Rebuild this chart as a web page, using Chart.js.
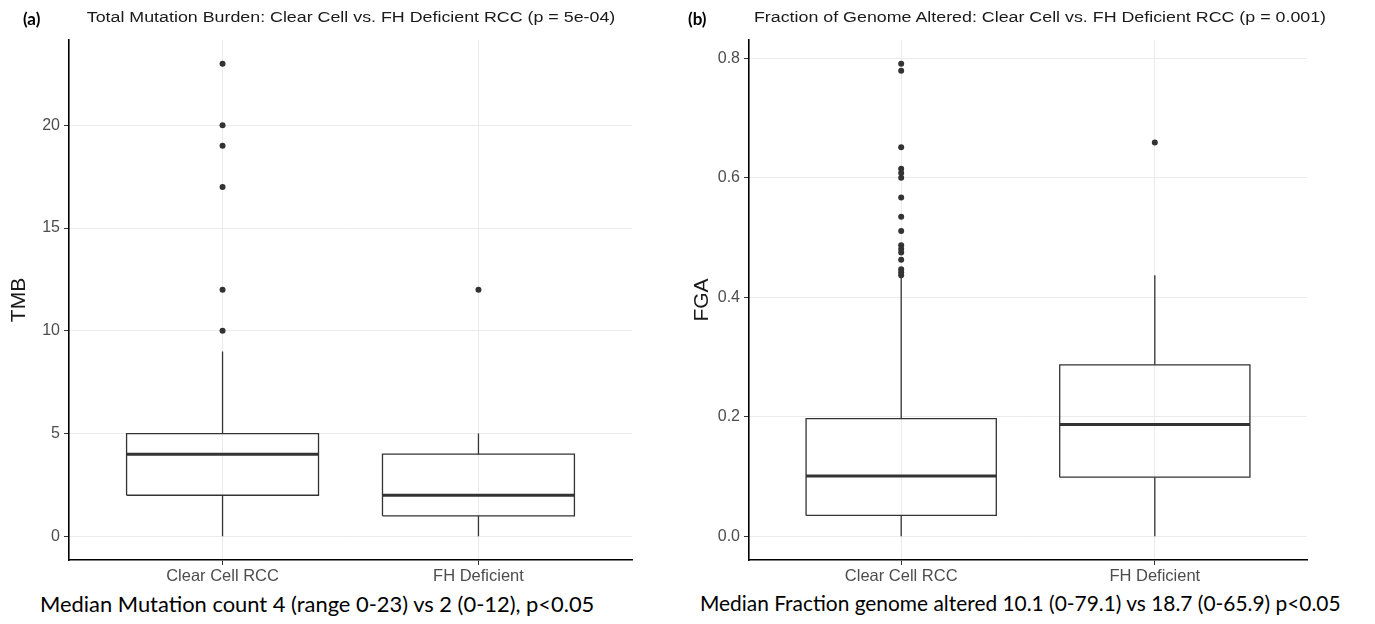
<!DOCTYPE html>
<html>
<head>
<meta charset="utf-8">
<script src="https://cdn.jsdelivr.net/npm/chart.js@4/dist/chart.umd.min.js"></script>
<style>
  html, body { margin: 0; padding: 0; background: #fff; }
  body { width: 1375px; height: 624px; position: relative; overflow: hidden; }
  .cv { position: absolute; top: 0; }
  .ttl { position: absolute; top: 8px; font-family: "Liberation Sans", Arial, sans-serif; font-size: 15.5px; color: #1a1a1a; white-space: nowrap; transform: translateX(-50%) scaleX(1.15); transform-origin: 50% 50%; }
  .tag { position: absolute; top: 8px; font-family: Lato, "Open Sans", sans-serif; font-weight: bold; font-size: 17px; color: #000; }
  .cap { position: absolute; top: 590px; font-family: Lato, "Open Sans", sans-serif; color: #000; white-space: nowrap; }
</style>
</head>
<body>
<canvas id="c1" class="cv" style="left:0px" width="688" height="590"></canvas>
<canvas id="c2" class="cv" style="left:688px" width="687" height="590"></canvas>
<div class="tag" style="left:23px">(a)</div>
<div class="ttl" style="left:351px">Total Mutation Burden: Clear Cell vs. FH Deficient RCC (p = 5e-04)</div>
<div class="tag" style="left:688px">(b)</div>
<div class="ttl" style="left:1040px">Fraction of Genome Altered: Clear Cell vs. FH Deficient RCC (p = 0.001)</div>
<div class="cap" style="left:40px; font-size:21.9px">Median Mutation count 4 (range 0-23) vs 2 (0-12), p&lt;0.05</div>
<div class="cap" style="left:700px; font-size:20.9px">Median Fraction genome altered 10.1 (0-79.1) vs 18.7 (0-65.9) p&lt;0.05</div>
<script>
// ---- data ----
const categories = ['Clear Cell RCC', 'FH Deficient'];

// Panel (a): TMB
const tmbWhiskerLow  = [0, 0];
const tmbQ1          = [2, 1];
const tmbMedian      = [4, 2];
const tmbQ3          = [5, 4];
const tmbWhiskerHigh = [9, 5];
const tmbOutliers    = [[10, 12, 17, 19, 20, 23], [12]];
const tmbTicks       = [0, 5, 10, 15, 20];

// Panel (b): FGA
const fgaWhiskerLow  = [0, 0];
const fgaQ1          = [0.035, 0.099];
const fgaMedian      = [0.101, 0.187];
const fgaQ3          = [0.197, 0.287];
const fgaWhiskerHigh = [0.434, 0.437];
const fgaOutliers    = [[0.437, 0.442, 0.447, 0.463, 0.475, 0.481, 0.487, 0.511, 0.535, 0.567, 0.600, 0.608, 0.615, 0.651, 0.779, 0.791], [0.659]];
const fgaTicks       = [0, 0.2, 0.4, 0.6, 0.8];

const HALF = 0.375; // box half width in category units
const INK = '#333333';
const GRID = '#ebebeb';

function buildDatasets(lo, q1, med, q3, hi, outs) {
  const boxes = [], medians = [], whiskers = [], points = [];
  categories.forEach((c, i) => {
    const x = i + 1;
    boxes.push({x: x - HALF, y: q1[i]}, {x: x + HALF, y: q1[i]}, {x: x + HALF, y: q3[i]}, {x: x - HALF, y: q3[i]}, {x: x - HALF, y: q1[i]}, {x: x, y: null});
    medians.push({x: x - HALF, y: med[i]}, {x: x + HALF, y: med[i]}, {x: x, y: null});
    whiskers.push({x: x, y: lo[i]}, {x: x, y: q1[i]}, {x: x, y: null}, {x: x, y: q3[i]}, {x: x, y: hi[i]}, {x: x, y: null});
    outs[i].forEach(v => points.push({x: x, y: v}));
  });
  return [
    {data: whiskers, showLine: true, borderColor: INK, borderWidth: 1.3, pointRadius: 0, spanGaps: false},
    {data: boxes, showLine: true, borderColor: INK, borderWidth: 1.3, pointRadius: 0, spanGaps: false, borderJoinStyle: 'miter'},
    {data: medians, showLine: true, borderColor: INK, borderWidth: 3, pointRadius: 0, spanGaps: false},
    {data: points, showLine: false, pointRadius: 3, pointBackgroundColor: INK, pointBorderWidth: 0, pointHoverRadius: 3}
  ];
}

function makeChart(id, datasets, ymin, ymax, ticks, yTitle, axisW, padRight, titlePad, fmt) {
  return new Chart(document.getElementById(id), {
    type: 'scatter',
    data: {datasets},
    options: {
      responsive: false,
      animation: false,
      events: [],
      layout: {padding: {left: 0, right: padRight, top: 40, bottom: 0}},
      plugins: {legend: {display: false}, tooltip: {enabled: false}},
      scales: {
        x: {
          type: 'linear', min: 0.4, max: 2.6, offset: false,
          afterBuildTicks: s => { s.ticks = categories.map((c, i) => ({value: i + 1})); },
          afterFit: s => { s.height = 30; },
          ticks: {callback: v => categories[v - 1], color: '#4d4d4d', font: {family: 'Liberation Sans', size: 16.5}, padding: 2, maxRotation: 0, autoSkip: false},
          grid: {color: GRID, lineWidth: 1, tickColor: INK, tickLength: 5, offset: false},
          border: {display: true, color: '#000', width: 1.6}
        },
        y: {
          type: 'linear', min: ymin, max: ymax,
          afterBuildTicks: s => { s.ticks = ticks.map(v => ({value: v})); },
          afterFit: s => { s.width = axisW; },
          ticks: {callback: fmt, color: '#4d4d4d', font: {family: 'Liberation Sans', size: 16}, padding: 4},
          grid: {color: GRID, lineWidth: 1, tickColor: INK, tickLength: 5},
          border: {display: true, color: '#000', width: 1.6},
          title: {display: true, text: yTitle, color: '#1a1a1a', font: {family: 'Liberation Sans', size: 21}, padding: {top: titlePad, bottom: 0}}
        }
      }
    }
  });
}

makeChart('c1', buildDatasets(tmbWhiskerLow, tmbQ1, tmbMedian, tmbQ3, tmbWhiskerHigh, tmbOutliers),
  -1.15, 24.15, tmbTicks, 'TMB', 69, 56, 7, v => String(v));
makeChart('c2', buildDatasets(fgaWhiskerLow, fgaQ1, fgaMedian, fgaQ3, fgaWhiskerHigh, fgaOutliers),
  -0.0396, 0.8306, fgaTicks, 'FGA', 61, 68, 2, v => v.toFixed(1));
</script>
</body>
</html>
